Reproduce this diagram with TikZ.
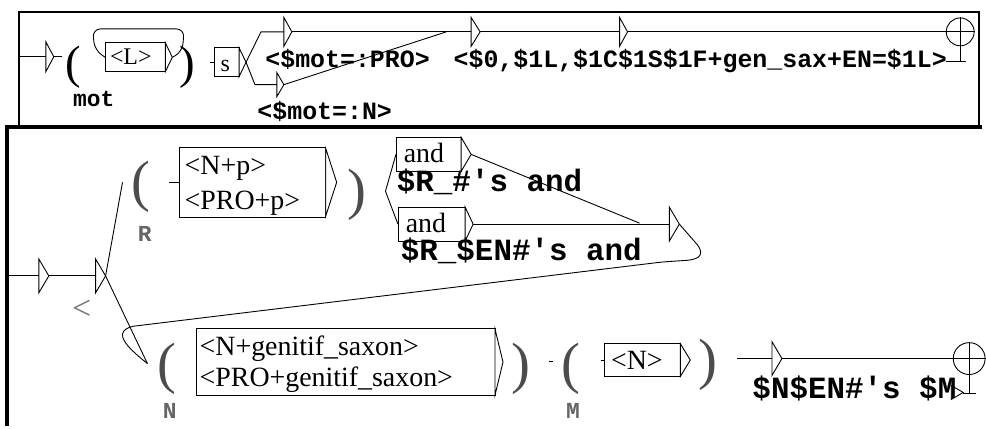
\documentclass[tikz,border=0pt]{standalone}
\usepackage{fontspec}
\setmainfont{Liberation Serif}
\newfontfamily\outfont{Liberation Mono}

\newcommand\tri[5]{%
	\coordinate (#1) at (#2,#3);
	\coordinate (#1e) at (#2+#5,#3);
	\draw[fill=white] (#2,#3-#4) -- (#1e) -- (#2,#3+#4) -- cycle;
}

\begin{document}
\begin{tikzpicture}[x=1pt, y=-1pt, line width=0.9pt,
	every node/.style={inner sep=0pt},
	gbox/.style={draw, line width=1pt},
	tbig/.style={font=\fontsize{47}{47}\selectfont},
	gbig/.style={font=\fontsize{57}{57}\selectfont, text=black!70},
	txtA/.style={anchor=base west, font=\fontsize{24}{28}\selectfont},
	txtB/.style={anchor=base west, font=\fontsize{28}{32}\selectfont},
	outA/.style={anchor=base west, font=\outfont\bfseries\fontsize{25}{30}\selectfont},
	outB/.style={anchor=base west, font=\outfont\bfseries\fontsize{31}{36}\selectfont},
	var/.style={anchor=base west, font=\outfont\bfseries\fontsize{23}{28}\selectfont, text=black!60}]

\fill[white] (0,0) rectangle (986,428);
\draw[line width=2pt] (19,12) rectangle (983,127);
\draw[line width=3.5pt] (7,428) -- (7,127.5) -- (986,127.5);

% first graph
\coordinate (i1) at (19,57);
\tri{a1}{46}{57}{15}{8}
\draw (i1) -- (a1);
\draw (a1e) -- (62,57);
\node[tbig] (mo) at (74,67.5) {(};
\node[var, text=black] (mot) at (73,107) {mot};
\node[gbox, minimum width=60, minimum height=29] (bL) at (136,57.5) {};
\node[txtA] (tL) at (110,65) {<L>};
\tri{bLr}{166}{57.5}{14.5}{7}
\draw[rounded corners=8pt] (bLre) -- (183,52) -- (185,29) -- (93,29) -- (95,50) -- (bL.west);
\node[tbig] (mc) at (188,67.5) {)};

\node[gbox, minimum width=25, minimum height=29] (bs) at (227.5,62.5) {};
\node[txtA] (ts) at (221,72) {s};
\draw (211,62.5) -- (bs.west);
\tri{bsr}{240}{62.5}{14.5}{7}

\coordinate (u1) at (262,32);
\coordinate (d1) at (256,85);
\tri{t2}{285}{32}{14.5}{8}
\tri{t3}{278}{85}{12}{7}
\tri{t4}{473}{32}{14.5}{9}
\tri{t5}{622}{32}{14.5}{8}
\draw (bsre) -- (u1) -- (t2);
\draw (bsre) -- (d1) -- (t3);
\draw (t2e) -- (t4);
\draw (t3e) -- (448,32);
\draw (t4e) -- (t5);

\node[circle, draw, minimum size=28] (f1) at (964,32) {};
\draw (t5e) -- (f1.east);
\draw (f1.north) -- (964,62);
\draw (950,62) -- (970,62);

\node[outA] (o1) at (266,68) {<\$mot=:PRO>};
\node[outA] (o2) at (258,120) {<\$mot=:N>};
\node[outA] (o3) at (455,68) {<\$0,\$1L,\$1C\$1S\$1F+gen\_sax+EN=\$1L>};

% second graph
\coordinate (i2) at (7,277);
\tri{b1}{39}{277}{17}{10}
\tri{b2}{96}{277}{17}{10}
\draw (i2) -- (b1);
\draw (b1e) -- (b2);
\node[font=\fontsize{34}{34}\selectfont, text=black!55] (lt) at (82,311) {<};

\node[gbig] (ro) at (141.5,188) {(};
\node[var] (R) at (138,242) {R};
\draw (b2e) -- (123,183);
\node[gbox, minimum width=147, minimum height=70] (bR) at (253.5,183) {};
\draw (170,183) -- (bR.west);
\node[txtB] (tR1) at (185,175) {<N+p>};
\node[txtB] (tR2) at (185,210) {<PRO+p>};
\tri{bRr}{327}{183}{34}{11}
\node[gbig] (rc) at (358.5,196) {)};

\coordinate (r2) at (387,192);
\node[gbox, minimum width=65, minimum height=34] (ba1) at (430.5,155) {};
\node[gbox, minimum width=67, minimum height=34] (ba2) at (433.5,225) {};
\draw (ba1.west) -- (r2) -- (ba2.west);
\node[txtB] (ta1) at (405,163) {and};
\node[txtB] (ta2) at (407,233) {and};
\tri{a1r}{463}{155}{17}{10}
\tri{a2r}{467}{225}{17}{8}
\node[outB] (o4) at (398,192) {\$R\_\#\char"27s and};
\node[outB] (o5) at (402,262) {\$R\_\$EN\#\char"27s and};

\tri{b3}{672}{225}{17}{10}
\draw (a1re) -- (642,224);
\draw (a2re) -- (b3);
\coordinate (n0) at (148,365);
\draw[rounded corners=4pt] (b3e) -- (703,249) -- (704,257) -- (695,261) -- (665,263) -- (130,328)
	.. controls (118,336) and (124,346) .. (n0);
\draw (b2e) -- (n0);

\node[gbig] (no) at (167.5,370) {(};
\node[var] (N) at (163,420) {N};
\node[gbox, minimum width=300, minimum height=67] (bN) at (347,363.5) {};
\node[txtB] (tN1) at (200,357) {<N+genitif\_saxon>};
\node[txtB] (tN2) at (200,388) {<PRO+genitif\_saxon>};
\tri{bNr}{497}{363.5}{33}{8}
\node[gbig] (nc) at (523.5,370) {)};
\draw (551,363) -- (555,363);

\node[gbig] (mo2) at (573.5,370) {(};
\node[var] (M) at (568,420) {M};
\node[gbox, minimum width=76, minimum height=33] (bM) at (645,361.5) {};
\draw (603,361.5) -- (bM.west);
\node[txtB] (tM) at (613,371) {<N>};
\tri{bMr}{683}{361.5}{16.5}{10}
\node[gbig] (mc2) at (711,366) {)};

\coordinate (m2) at (740,360);
\tri{b4}{775}{360}{17}{10}
\draw (m2) -- (b4);
\node[circle, draw, minimum size=32] (f2) at (973,360) {};
\draw (b4e) -- (f2.east);
\draw (f2.north) -- (973,395);
\draw (967,395) -- (980,395);
\draw (955,387) -- (967,394) -- (955,401) -- cycle;
\node[outB] (o6) at (755,400) {\$N\$EN\#\char"27s \$M};

\end{tikzpicture}
\end{document}
